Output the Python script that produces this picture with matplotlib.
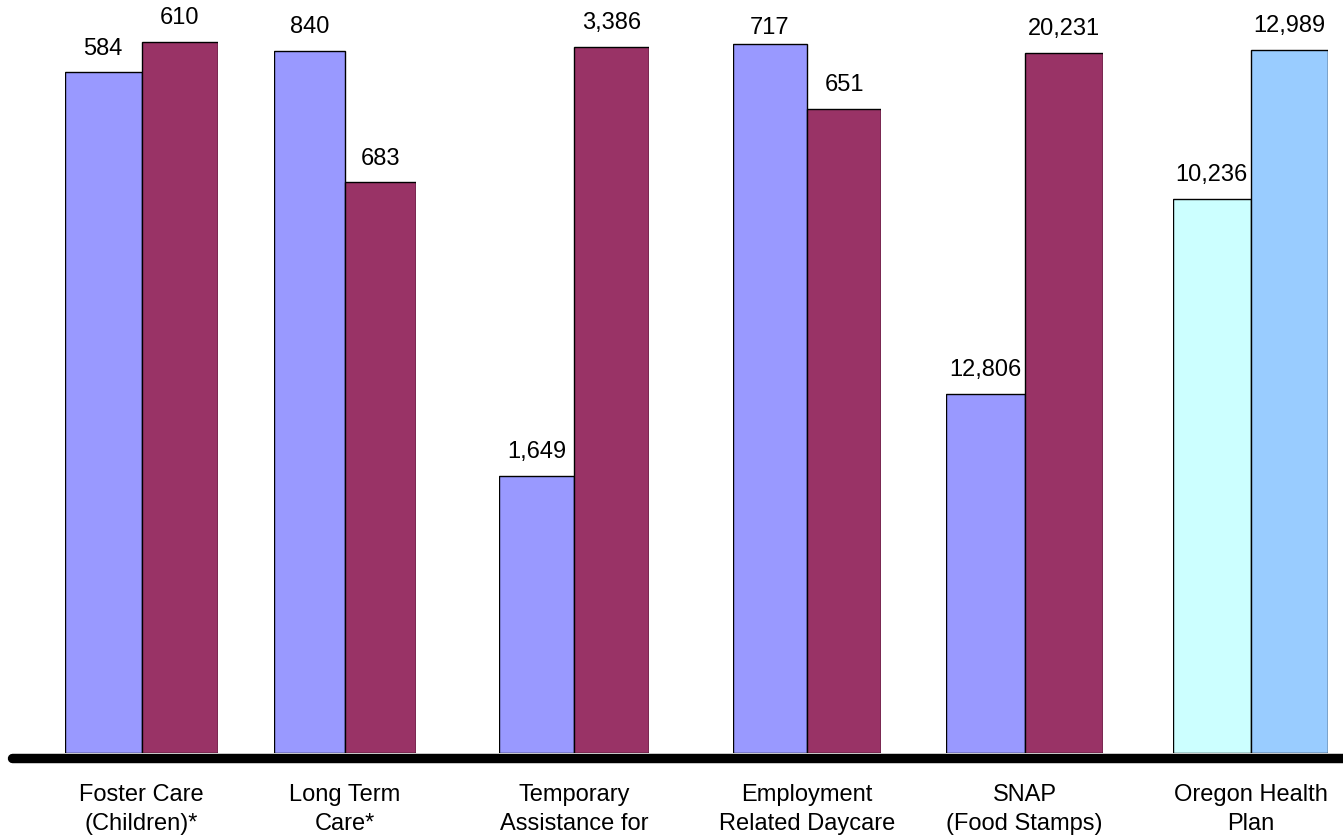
import matplotlib.pyplot as plt
from matplotlib.lines import Line2D

plt.rcParams['font.family'] = ['Liberation Sans', 'DejaVu Sans']

# each program is drawn on its own scale
programs = ['Foster Care\n(Children)*', 'Long Term\nCare*',
            'Temporary\nAssistance for', 'Employment\nRelated Daycare',
            'SNAP\n(Food Stamps)', 'Oregon Health\nPlan']
first_vals = [584, 840, 1649, 717, 12806, 10236]
second_vals = [610, 683, 3386, 651, 20231, 12989]
value_labels_first = ['584', '840', '1,649', '717', '12,806', '10,236']
value_labels_second = ['610', '683', '3,386', '651', '20,231', '12,989']
y_limits = [(0, 646), (0, 901), (527, 3576), (0, 761), (4990, 21383), (0, 13910)]

first_colors = ['#9999FF'] * 5 + ['#CCFFFF']
second_colors = ['#993366'] * 5 + ['#99CCFF']

W, H = 1343, 840
base_px = 753
group_left = [65, 274, 499, 733, 946, 1173]
group_width = [153, 142, 150, 148, 157, 155]

fig = plt.figure(figsize=(W / 100, H / 100), dpi=100)

for i in range(len(programs)):
    ax = fig.add_axes([group_left[i] / W, 1 - base_px / H, group_width[i] / W, base_px / H])
    lo, hi = y_limits[i]
    vals = [first_vals[i], second_vals[i]]
    labs = [value_labels_first[i], value_labels_second[i]]
    cols = [first_colors[i], second_colors[i]]
    ax.bar([0, 1], [v - lo for v in vals], bottom=lo, width=1, align='edge',
           color=cols, edgecolor='black', linewidth=1)
    for x, v, t in zip([0.5, 1.5], vals, labs):
        off = 3 if t == '717' else 9
        ax.annotate(t, (x, v), xytext=(0, off), textcoords='offset points',
                    ha='center', va='bottom', fontsize=17, annotation_clip=False)
    ax.set_xlim(0, 2)
    ax.set_ylim(lo, hi)
    ax.set_yticks([])
    ax.set_xticks([1], [programs[i]])
    ax.tick_params(axis='x', length=0, pad=22, labelsize=17)
    for lab in ax.get_xticklabels():
        lab.set_linespacing(1.45)
    for s in ax.spines.values():
        s.set_visible(False)
    ax.patch.set_visible(False)

fig.add_artist(Line2D([12 / W, 1.0], [1 - 757.5 / H, 1 - 757.5 / H], color='black',
                      linewidth=6.8, solid_capstyle='round'))

fig.savefig('out.png', dpi=100)
